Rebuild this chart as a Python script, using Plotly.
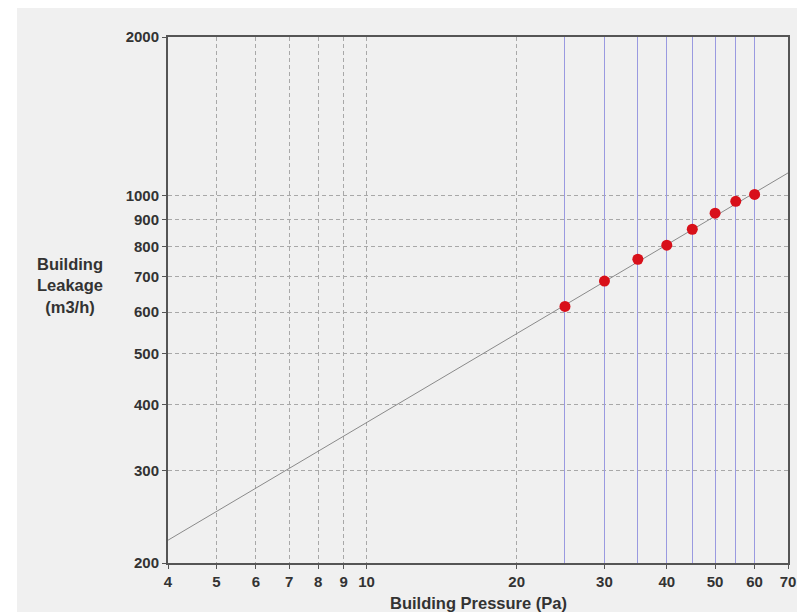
import plotly.graph_objects as go
import math

# Data
pressure = [25, 30, 35, 40, 45, 50, 55, 60]
leakage = [615, 687, 756, 804, 862, 925, 974, 1004]
fit_x = [4, 70]
fit_y = [221, 1103]

x_tick_vals = [4, 5, 6, 7, 8, 9, 10, 20, 30, 40, 50, 60, 70]
x_tick_text = ["4", "5", "6", "7", "8", "9", "10", "20", "30", "40", "50", "60", "70"]
x_gray_grid = [5, 6, 7, 8, 9, 10, 20]
x_blue_grid = [25, 30, 35, 40, 45, 50, 55, 60]
y_tick_vals = [200, 300, 400, 500, 600, 700, 800, 900, 1000, 2000]
y_tick_text = ["200", "300", "400", "500", "600", "700", "800", "900", "1000", "2000"]

W, H = 797, 612
L, R, T, B = 168, 9, 37, 49
pw, ph = W - L - R, H - T - B

xr = [math.log10(4), math.log10(70)]
yr = [math.log10(200), math.log10(2000)]

tick_font = dict(family="Liberation Sans, Arial, sans-serif", size=15, color="#333333")
title_font = dict(family="Liberation Sans, Arial, sans-serif", size=16.5, color="#333333")

fig = go.Figure()
fig.add_trace(go.Scatter(x=[], y=[], xaxis="x2", showlegend=False, hoverinfo="skip"))
fig.add_trace(go.Scatter(x=[], y=[], xaxis="x3", showlegend=False, hoverinfo="skip"))
fig.add_trace(go.Scatter(x=fit_x, y=fit_y, mode="lines",
                         line=dict(color="#8a8a8a", width=1), showlegend=False))
fig.add_trace(go.Scatter(x=pressure, y=leakage, mode="markers",
                         marker=dict(color="#d8101a", size=11), showlegend=False))

fig.update_layout(
    width=W, height=H, autosize=False,
    margin=dict(l=L, r=R, t=T, b=B, pad=0, autoexpand=False),
    paper_bgcolor="white",
    plot_bgcolor="white",
    font=tick_font,
    xaxis=dict(type="log", range=xr, tickmode="array", tickvals=x_tick_vals,
               ticktext=["<b>%s</b>" % t for t in x_tick_text], showgrid=False,
               ticks="outside", ticklen=4, tickcolor="#555555", showline=True,
               linecolor="#555555", linewidth=2, mirror=True, tickfont=tick_font,
               zeroline=False, automargin=False),
    xaxis2=dict(type="log", range=xr, overlaying="x", tickmode="array",
                tickvals=x_gray_grid, showgrid=True, gridcolor="#a8a8a8",
                griddash="4px,3px", gridwidth=1, showticklabels=False, ticks="",
                showline=False, zeroline=False, automargin=False),
    xaxis3=dict(type="log", range=xr, overlaying="x", tickmode="array",
                tickvals=x_blue_grid, showgrid=True, gridcolor="#9a9ae0",
                gridwidth=1, showticklabels=False, ticks="",
                showline=False, zeroline=False, automargin=False),
    yaxis=dict(type="log", range=yr, tickmode="array", tickvals=y_tick_vals,
               ticktext=["<b>%s</b>" % t for t in y_tick_text], showgrid=True,
               gridcolor="#a8a8a8", griddash="4px,3px", gridwidth=1, ticks="outside",
               ticklen=4, tickcolor="#555555", showline=True, linecolor="#555555",
               linewidth=2, mirror=True, zeroline=False, tickfont=tick_font,
               automargin=False),
    shapes=[dict(type="rect", xref="paper", yref="paper", layer="below",
                 x0=(17 - L) / pw, x1=(W - L) / pw + 0.01,
                 y0=-(B + 5) / ph, y1=1 + (T - 8) / ph,
                 fillcolor="#f0f0f0", line=dict(width=0))],
    annotations=[
        dict(text="<b>Building Pressure (Pa)</b>", xref="paper", yref="paper",
             x=0.5, y=-(603 - T - ph) / ph, showarrow=False, yanchor="middle",
             xanchor="center", font=title_font),
        dict(text="<b>Building<br>Leakage<br>(m3/h)</b>", xref="paper", yref="paper",
             x=(70 - L) / pw, y=1 - (285 - T) / ph, showarrow=False,
             xanchor="center", yanchor="middle", font=title_font),
    ],
)

fig.write_html(
    "out.html",
    config={"responsive": False, "displayModeBar": False},
    post_script="document.body.style.margin='0';document.body.style.overflow='hidden';",
)
